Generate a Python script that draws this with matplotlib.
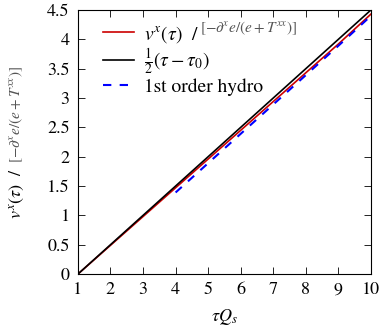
import matplotlib
matplotlib.use("Agg")
import matplotlib.pyplot as plt

plt.rcParams['font.family'] = ['STIXGeneral', 'DejaVu Serif']
plt.rcParams['mathtext.fontset'] = 'stix'
plt.rcParams['font.size'] = 11

# data
tau_v = [1, 2, 3, 4, 5, 6, 7, 8, 9, 10]
v_x = [0, 0.49, 0.98, 1.47, 1.96, 2.45, 2.94, 3.43, 3.92, 4.43]

tau_free = [1, 10]
v_free = [0, 4.5]

tau_hydro = [4, 5, 6, 7, 8, 9, 10]
v_hydro = [1.39, 1.89, 2.39, 2.89, 3.39, 3.89, 4.40]

fig = plt.figure(figsize=(3.82, 3.33), dpi=100)
ax = fig.add_axes([0.204, 0.177, 0.767, 0.793])

ax.plot(tau_v, v_x, color='#cc0000', lw=1.2, label=r'$v^x(\tau)$  /')
ax.plot(tau_free, v_free, color='black', lw=1.2,
        label=r'$\frac{1}{2}(\tau-\tau_0)$')
ax.plot(tau_hydro, v_hydro, color='#0000ff', lw=1.5, ls=(0, (4, 4)),
        label='1st order hydro')

ax.set_xlim(1, 10)
ax.set_ylim(0, 4.5)
ax.set_xticks(range(1, 11))
ax.set_yticks([0, 0.5, 1, 1.5, 2, 2.5, 3, 3.5, 4, 4.5])
ax.set_yticklabels(['0', '0.5', '1', '1.5', '2', '2.5', '3', '3.5', '4', '4.5'])
ax.tick_params(direction='in', top=True, right=True, length=5, width=0.6,
               labelsize=13, pad=6)
for s in ax.spines.values():
    s.set_linewidth(0.8)

ax.set_xlabel(r'$\tau Q_s$', fontsize=13, labelpad=6)

leg = ax.legend(loc='upper left', frameon=False, fontsize=14,
                handlelength=1.6, handletextpad=0.5, labelspacing=0.1,
                borderaxespad=0.3, bbox_to_anchor=(0.04, 1.0))

ax.text(0.418, 0.932, r'$[-\partial^x e/(e+T^{xx})]$', fontsize=11,
        color='#555555', transform=ax.transAxes, va='center')

fig.text(0.042, 0.42, r'$v^x(\tau)$  /', rotation=90, fontsize=13,
         va='center', ha='center')
fig.text(0.042, 0.655, r'$[-\partial^x e/(e+T^{xx})]$', rotation=90,
         fontsize=11, color='#555555', va='center', ha='center')

fig.savefig('out.png', dpi=100)
